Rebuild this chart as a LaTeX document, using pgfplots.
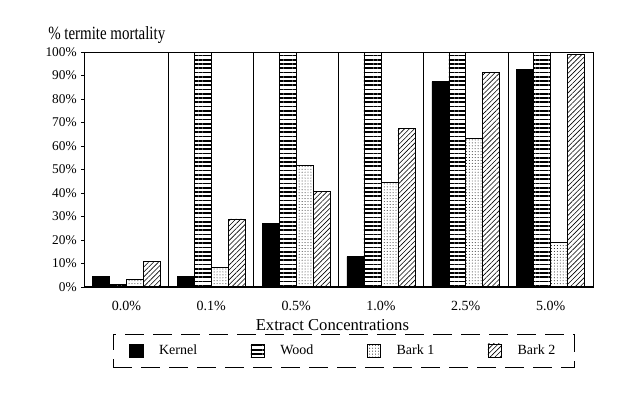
\documentclass[border=0pt]{standalone}
\usepackage{graphicx}
\usepackage{pgfplots}
\pgfplotsset{compat=1.18}
\usepackage{pgfplotstable}
\usepackage{fontspec}
\setmainfont{Liberation Serif}
\usetikzlibrary{patterns,patterns.meta}
\pgfplotstableread{
x kernel wood bark1 bark2
0 4.4 1.0 3.4 11.0
1 4.4 100 8.5 29.0
2 27.0 100 51.6 40.8
3 12.9 100 44.5 67.5
4 87.4 100 63.5 91.2
5 92.6 100 18.9 99.0
}\datatable
\begin{document}
\begin{tikzpicture}
\useasboundingbox (0pt,0pt) rectangle (480pt,300.75pt);
\begin{axis}[
  at={(63pt,85.5pt)}, anchor=south west,
  scale only axis, width=381.75pt, height=176.25pt,
  xmin=-0.5, xmax=5.5, ymin=0, ymax=100,
  ybar=0pt, bar width=0.2,
  axis line style={black, line width=0.6pt},
  xtick={0,1,2,3,4,5},
  xticklabels={0.0\%,0.1\%,0.5\%,1.0\%,2.5\%,5.0\%},
  xtick style={draw=none},
  xticklabel style={font=\fontsize{10.5}{12}\selectfont, yshift=-5pt},
  extra x ticks={0.5,1.5,2.5,3.5,4.5},
  extra x tick labels={},
  extra x tick style={grid=major, major grid style={black, line width=0.6pt}, major tick length=0pt},
  ytick={0,10,...,100},
  yticklabel={\pgfmathprintnumber{\tick}\%},
  yticklabel style={font=\fontsize{10}{11}\selectfont},
  ytick pos=left, tick align=outside, major tick length=2pt,
  ytick style={black},
  /pgf/number format/assume math mode=true,
  xlabel={Extract Concentrations},
  xlabel style={font=\fontsize{12.5}{14}\selectfont, at={(axis description cs:0.488,-0.162)}, anchor=center},
  legend columns=4,
  legend style={at={(axis description cs:0.51,-0.27)}, anchor=center,
    draw=black, dash pattern=on 14pt off 7pt, line width=0.5pt,
    font=\fontsize{10.5}{12}\selectfont, inner xsep=12pt, inner ysep=6pt,
    /tikz/every odd column/.append style={column sep=10pt},
    /tikz/every even column/.append style={column sep=38pt}},
  legend image code/.code={\draw[#1, solid] (0pt,-5pt) rectangle (10pt,5pt);},
]
\addplot[draw=black, fill=black, line width=0.4pt] table[x=x, y=kernel] {\datatable};
\addlegendentry{Kernel}
\addplot[draw=black, line width=0.4pt, pattern={Lines[angle=0, distance=3.2pt, line width=1.3pt]}] table[x=x, y=wood] {\datatable};
\addlegendentry{Wood}
\addplot[draw=black, line width=0.4pt, pattern={Dots[distance=2.2pt, radius=0.35pt]}] table[x=x, y=bark1] {\datatable};
\addlegendentry{Bark 1}
\addplot[draw=black, line width=0.4pt, pattern={Lines[angle=45, distance=2.6pt, line width=0.45pt]}] table[x=x, y=bark2] {\datatable};
\addlegendentry{Bark 2}
\draw[black, line width=2pt] (axis cs:-0.5,0) -- (axis cs:5.5,0);
\end{axis}
\node[anchor=base west, inner sep=0pt] at (36pt,270.75pt) {\fontsize{14}{16}\selectfont\scalebox{0.8}[1]{\% termite mortality}};
\end{tikzpicture}
\end{document}
